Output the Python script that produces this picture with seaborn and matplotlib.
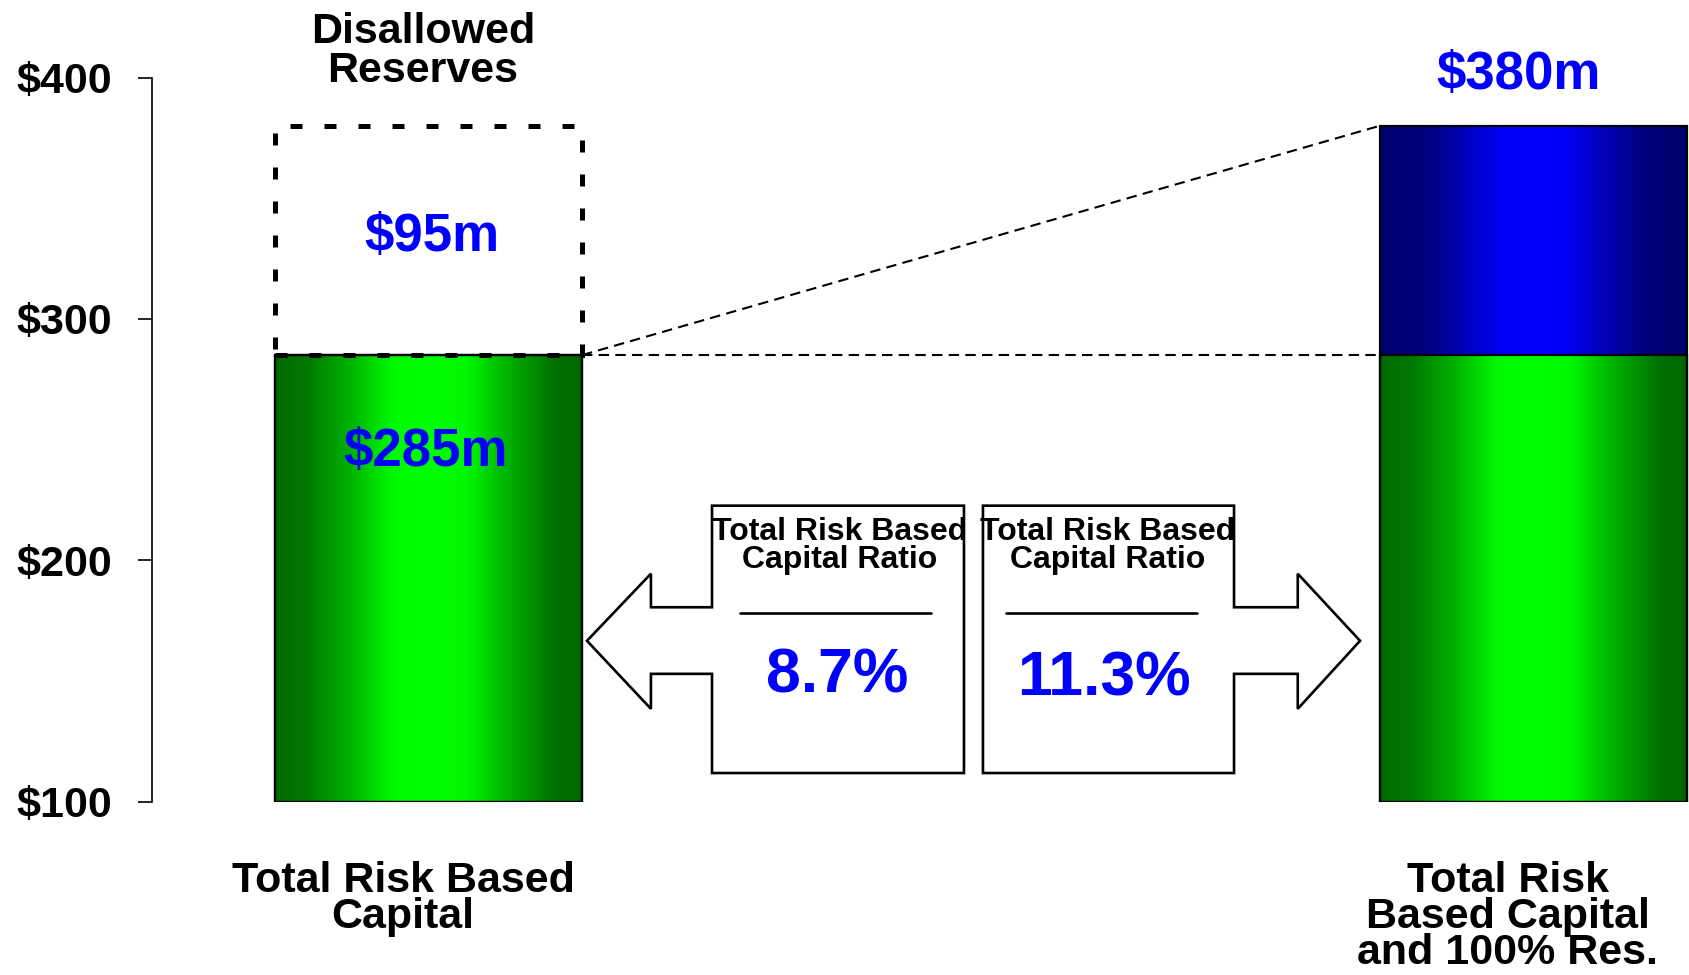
import numpy as np
import pandas as pd
import matplotlib
matplotlib.use("Agg")
import matplotlib.pyplot as plt
from matplotlib.colors import LinearSegmentedColormap
from matplotlib.patches import Polygon, Rectangle
import seaborn as sns

# ----------------------------------------------------------
# DATA
# ----------------------------------------------------------

categories = ["Total Risk Based\nCapital", "Total Risk\nBased Capital\nand 100% Res."]
capital = [285, 285]          # $m, green part
total_with_res = [285, 380]   # $m, incl. disallowed reserves
disallowed = 95
ratios = ["8.7%", "11.3%"]
ytick_vals = [100, 200, 300, 400]
ytick_labels = ["$100", "$200", "$300", "$400"]

# ----------------------------------------------------------
# STYLE
# ----------------------------------------------------------

sns.set_style("white")
plt.rcParams["font.family"] = ["Liberation Sans", "DejaVu Sans"]
plt.rcParams["font.weight"] = "bold"
plt.rcParams["text.color"] = "black"
plt.rcParams["ytick.color"] = "black"
plt.rcParams["ytick.labelcolor"] = "black"

BLUE_TXT = "#0000FF"
BAR_W = 0.278

fig = plt.figure(figsize=(16.89, 9.75), dpi=100)
ax = fig.add_axes([152 / 1689, 1 - 801.5 / 975, (1689 - 152) / 1689, (801.5 - 77.6) / 975])

df = pd.DataFrame({"cat": categories, "capital": capital, "total": total_with_res})

sns.barplot(data=df, x="cat", y="total", color="blue", width=BAR_W, ax=ax,
            edgecolor="black", linewidth=1.6, saturation=1)
sns.barplot(data=df, x="cat", y="capital", color="green", width=BAR_W, ax=ax,
            edgecolor="black", linewidth=1.6, saturation=1)

ymin = ytick_vals[0]

# gradient fill for each bar (dark edges, bright centre)
green_cm = LinearSegmentedColormap.from_list(
    "g", [(0, "#006A00"), (0.1, "#007800"), (0.24, "#00B000"), (0.38, "#00F800"),
          (0.5, "#00FF00"), (0.62, "#00F800"), (0.76, "#00B000"),
          (0.9, "#007400"), (1, "#006600")])
blue_cm = LinearSegmentedColormap.from_list(
    "b", [(0, "#00006C"), (0.15, "#000080"), (0.27, "#0000B8"), (0.4, "#0000F8"),
          (0.5, "#0000FF"), (0.6, "#0000F8"), (0.73, "#0000B8"),
          (0.85, "#000080"), (1, "#00006C")])
grad = np.linspace(0, 1, 512).reshape(1, -1)

n = len(categories)
for i, p in enumerate(ax.patches):
    # bars start at the bottom of the visible scale
    top = p.get_y() + p.get_height()
    p.set_y(ymin)
    p.set_height(top - ymin)
    cm = blue_cm if i < n else green_cm
    x0 = p.get_x()
    im = ax.imshow(grad, extent=[x0, x0 + p.get_width(), ymin, top],
                   aspect="auto", cmap=cm, zorder=1, interpolation="bilinear")
    im.set_clip_path(p)
    p.set_facecolor("none")
    p.set_zorder(2)

ax.set_xlim(-0.2503, 1.1412)
ax.set_ylim(100, 400)

# ----------------------------------------------------------
# AXES
# ----------------------------------------------------------

ax.set_yticks(ytick_vals)
ax.set_yticklabels(ytick_labels, fontsize=31, fontweight="bold")
ax.tick_params(axis="y", length=10, width=1.2, pad=19, left=True, color="black")
ax.set_xticks([])
ax.set_xlabel("")
ax.set_ylabel("")
for s in ["top", "right", "bottom"]:
    ax.spines[s].set_visible(False)
ax.spines["left"].set_linewidth(1.2)
ax.spines["left"].set_color("black")

# ----------------------------------------------------------
# DISALLOWED RESERVES BOX + CONNECTORS
# ----------------------------------------------------------

half = BAR_W / 2
ax.add_patch(Rectangle((0 - half, capital[0]), BAR_W, disallowed, fill=False,
                       edgecolor="black", linewidth=3.6, linestyle=(0, (2.4, 4.4)),
                       zorder=4, clip_on=False))

ax.plot([half, 1 - half], [capital[0], total_with_res[1]], color="black",
        linewidth=1.5, linestyle=(0, (5, 3)), zorder=3)
ax.plot([half, 1 - half], [capital[0], capital[1]], color="black",
        linewidth=1.5, linestyle=(0, (5, 3)), zorder=3)

# ----------------------------------------------------------
# CALLOUT ARROWS
# ----------------------------------------------------------

left_arrow = [(0.4848, 222.6), (0.2567, 222.6), (0.2567, 180.5), (0.2014, 180.5),
              (0.2014, 194.4), (0.1435, 166.6), (0.2014, 138.4), (0.2014, 152.9),
              (0.2567, 152.9), (0.2567, 111.8), (0.4848, 111.8)]
right_arrow = [(0.502, 222.6), (0.7293, 222.6), (0.7293, 180.5), (0.787, 180.5),
               (0.787, 194.4), (0.8434, 166.6), (0.787, 138.4), (0.787, 152.9),
               (0.7293, 152.9), (0.7293, 111.8), (0.502, 111.8)]
for pts in [left_arrow, right_arrow]:
    ax.add_patch(Polygon(pts, closed=True, facecolor="white", edgecolor="black",
                         linewidth=1.9, zorder=3, joinstyle="miter"))

box_cx = [0.3725, 0.6145]
line_x = [(0.282, 0.455), (0.523, 0.696)]
pct_pos = [(0.3698, 152.1), (0.6115, 150.8)]
for i in range(2):
    ax.text(box_cx[i], 206, "Total Risk Based\nCapital Ratio", ha="center", va="center",
            fontsize=23, fontweight="bold", linespacing=0.9, zorder=5)
    ax.plot(line_x[i], [178, 178], color="black", linewidth=1.9, zorder=5)
    ax.text(pct_pos[i][0], pct_pos[i][1], ratios[i], ha="center", va="center",
            fontsize=45, fontweight="bold", color=BLUE_TXT, zorder=5)

# ----------------------------------------------------------
# VALUE LABELS
# ----------------------------------------------------------

ax.text(-0.005, 411, "Disallowed\nReserves", ha="center", va="center", fontsize=31,
        fontweight="bold", linespacing=0.97, clip_on=False)
ax.text(0.003, 334, f"${disallowed}m", ha="center", va="center", fontsize=38,
        fontweight="bold", color=BLUE_TXT, zorder=5)
ax.text(-0.003, 245, f"${capital[0]}m", ha="center", va="center", fontsize=38,
        fontweight="bold", color=BLUE_TXT, zorder=5)
ax.text(0.987, 401, f"${total_with_res[1]}m", ha="center", va="center", fontsize=38,
        fontweight="bold", color=BLUE_TXT, clip_on=False)

cat_x = [-0.023, 0.977]
for i, c in enumerate(categories):
    ax.text(cat_x[i], 75.5, c, ha="center", va="top", fontsize=31, fontweight="bold",
            linespacing=0.88, clip_on=False)

fig.savefig("out.png", dpi=100)
plt.close(fig)
